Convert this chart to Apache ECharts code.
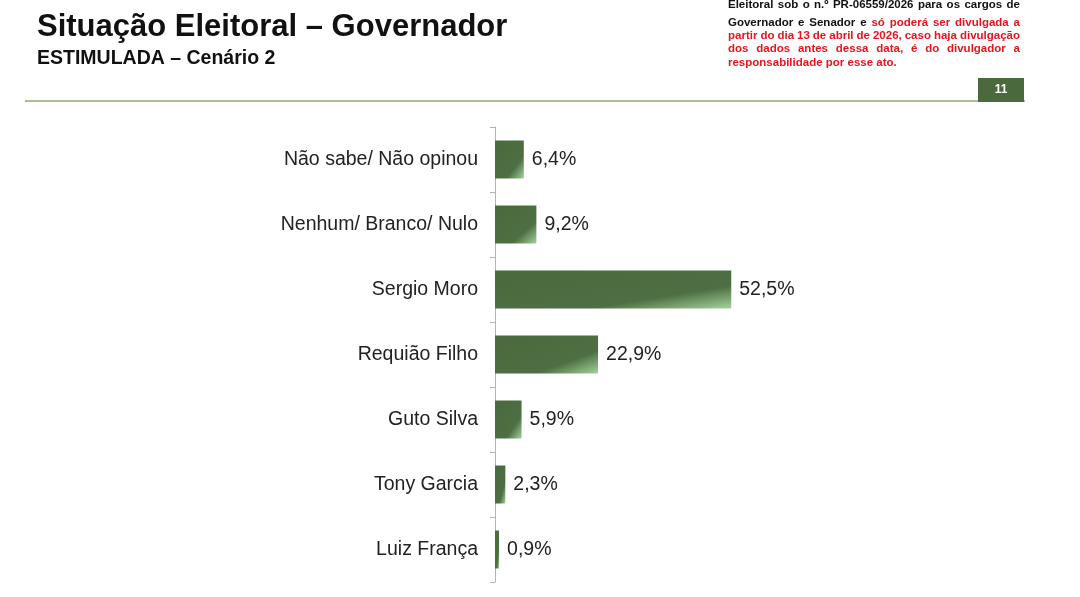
<!DOCTYPE html>
<html>
<head>
<meta charset="utf-8">
<script src="https://cdn.jsdelivr.net/npm/echarts@6/dist/echarts.min.js"></script>
<style>
  html, body { margin: 0; padding: 0; background: #fff; }
  #chart { width: 1080px; height: 597px; }
</style>
</head>
<body>
<div id="chart"></div>
<script>
// data
const categories = [
  'Não sabe/ Não opinou',
  'Nenhum/ Branco/ Nulo',
  'Sergio Moro',
  'Requião Filho',
  'Guto Silva',
  'Tony Garcia',
  'Luiz França'
];
const values = [6.4, 9.2, 52.5, 22.9, 5.9, 2.3, 0.9];

const titleText = 'Situação Eleitoral – Governador';
const subtitleText = 'ESTIMULADA – Cenário 2';
const pageNumber = '11';

// disclaimer lines, [text, color] tokens; last line not justified
const noteLines = [
  [['Eleitoral sob o n.º PR-06559/2026 para os cargos de', '#111']],
  [['Governador e Senador e', '#111'], ['só poderá ser divulgada a', '#e8141c']],
  [['partir do dia 13 de abril de 2026, caso haja divulgação', '#e8141c']],
  [['dos dados antes dessa data, é do divulgador a', '#e8141c']],
  [['responsabilidade por esse ato.', '#e8141c']]
];

const font = '"Liberation Sans", Arial, sans-serif';
const green = '#4a6a3e';

// grid geometry
const gridLeft = 495, gridWidth = 450, xMax = 100, barH = 38;

// justified word layout for the note
const noteFont = 'bold 11.5px ' + font;
const ctx = document.createElement('canvas').getContext('2d');
ctx.font = noteFont;
const noteLeft = 728, noteRight = 1020;
const noteY = [5, 22.5, 36, 49.3, 62.6];
const noteElements = [];
noteLines.forEach((line, li) => {
  const words = [];
  line.forEach(([txt, color]) => {
    txt.split(' ').forEach(w => words.push({ w, color, width: ctx.measureText(w).width }));
  });
  const total = words.reduce((s, o) => s + o.width, 0);
  const isLast = li === noteLines.length - 1;
  const gap = isLast ? ctx.measureText(' ').width : (noteRight - noteLeft - total) / (words.length - 1);
  let x = noteLeft;
  words.forEach(o => {
    noteElements.push({
      type: 'text',
      x: x,
      y: noteY[li],
      style: { text: o.w, fill: o.color, font: noteFont, textVerticalAlign: 'middle' }
    });
    x += o.width + gap;
  });
});

// diagonal gradient scaled to the bar shape (light corner at bottom right)
function barGradient(v) {
  const w = Math.max(v * gridWidth / xMax, 1), h = barH;
  const d = h * h + w * w;
  return {
    type: 'linear', x: 0, y: 0, x2: 2 * h * h / d, y2: 2 * w * w / d,
    colorStops: [
      { offset: 0, color: green },
      { offset: 0.7, color: '#4e6f43' },
      { offset: 1, color: '#a3d29c' }
    ]
  };
}

const chart = echarts.init(document.getElementById('chart'));
const option = {
  backgroundColor: '#ffffff',
  animation: false,
  grid: { left: gridLeft, top: 127, height: 455, width: gridWidth },
  xAxis: {
    type: 'value',
    min: 0,
    max: xMax,
    show: false
  },
  yAxis: {
    type: 'category',
    data: categories,
    inverse: true,
    axisLine: { show: true, lineStyle: { color: '#b4b4b4', width: 1 } },
    axisTick: { show: true, length: 5, lineStyle: { color: '#b4b4b4' } },
    axisLabel: {
      margin: 17,
      color: '#222',
      fontSize: 19.5,
      fontFamily: font
    }
  },
  series: [{
    type: 'bar',
    data: values.map(v => ({ value: v, itemStyle: { color: barGradient(v) } })),
    barWidth: barH,
    label: {
      show: true,
      position: 'right',
      distance: 8,
      color: '#222',
      fontSize: 19.5,
      fontFamily: font,
      formatter: p => p.value.toFixed(1).replace('.', ',') + '%'
    }
  }],
  graphic: [
    {
      type: 'text', left: 37, top: 12,
      style: { text: titleText, font: 'bold 31px ' + font, fill: '#111' }
    },
    {
      type: 'text', left: 37, top: 48.5,
      style: { text: subtitleText, font: 'bold 19.5px ' + font, fill: '#111' }
    },
    {
      type: 'rect',
      shape: { x: 25, y: 100, width: 1000, height: 2 },
      style: { fill: '#a8bf93' }
    },
    {
      type: 'rect',
      shape: { x: 978, y: 78, width: 46, height: 24 },
      style: { fill: green }
    },
    {
      type: 'text', x: 1001, y: 90,
      style: { text: pageNumber, font: 'bold 12px ' + font, fill: '#fff', textAlign: 'center', textVerticalAlign: 'middle' }
    }
  ].concat(noteElements)
};
chart.setOption(option);
</script>
</body>
</html>
